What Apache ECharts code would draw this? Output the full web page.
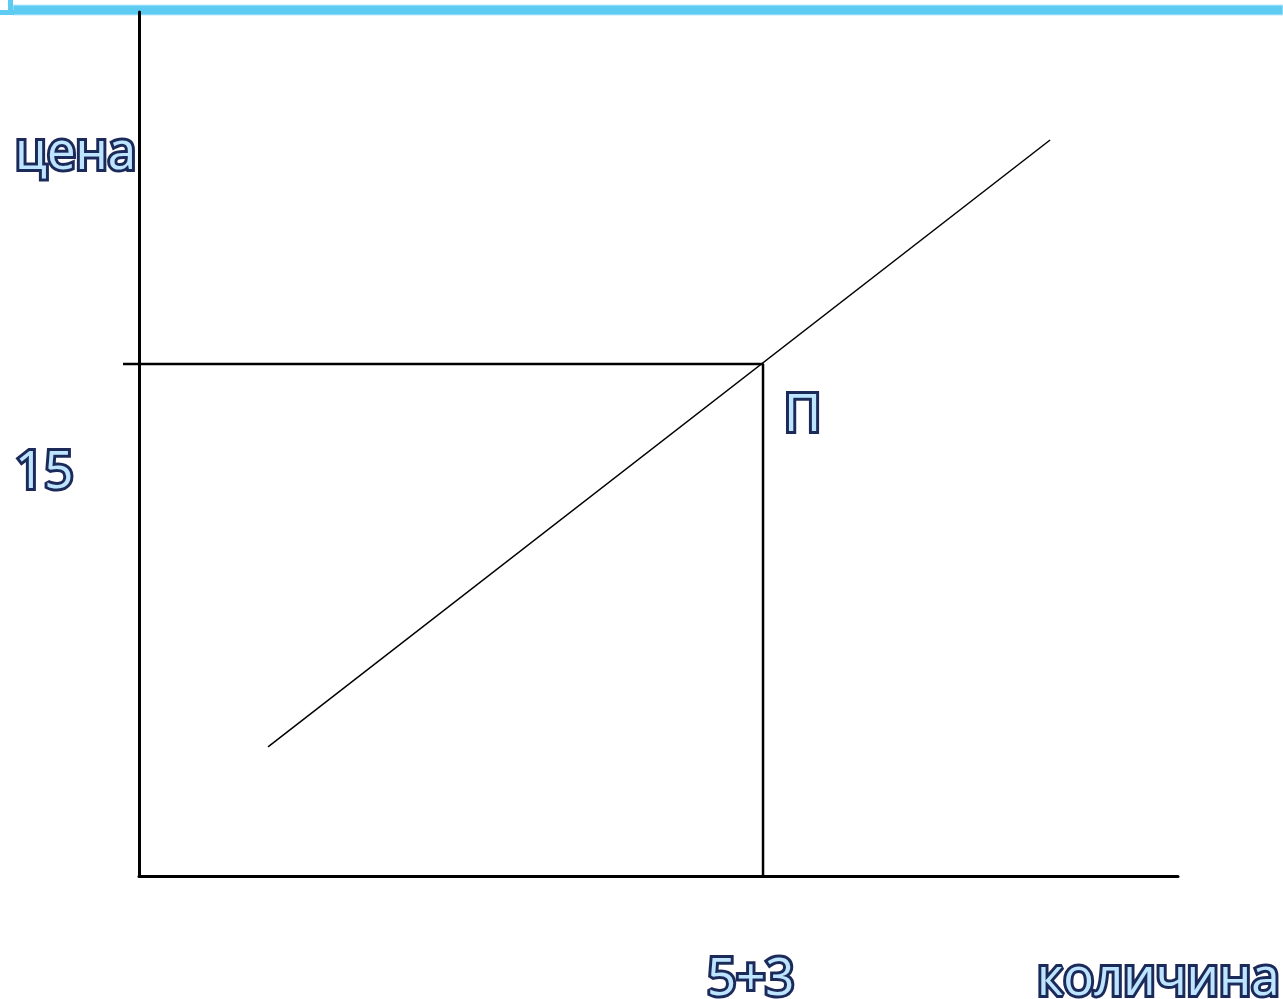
<!DOCTYPE html>
<html>
<head>
<meta charset="utf-8">
<script src="https://cdn.jsdelivr.net/npm/echarts@6/dist/echarts.min.js"></script>
<style>html,body{margin:0;padding:0;background:#fff;}#c{width:1283px;height:999px;}</style>
</head>
<body>
<div id="c"></div>
<script>
// Data (quantity, price)
const supplyQ = [1.654, 11.68];
const supplyP = [3.78, 21.56];
const guideQ = [-0.205, 8, 8];
const guideP = [15, 15, 0];
const eqQ = 8;
const eqP = 15;
const labelPrice = 'цена';
const labelQty = 'количина';
const tickPrice = '15';
const tickQty = '5+3';
const pointLabel = 'П';

const chart = echarts.init(document.getElementById('c'), null, {renderer: 'canvas'});
const txt = {
  fill: '#bde5ff', stroke: '#1c2a5a', lineWidth: 6, strokeFirst: true,
  fontFamily: '"Open Sans"', fontWeight: 400, fontSize: 51
};
function T(text, x, y, align) {
  return { type: 'text', x: x, y: y, z: 10,
    style: Object.assign({ text: text, align: align || 'left', verticalAlign: 'middle' }, txt) };
}
const option = {
  animation: false,
  backgroundColor: '#fff',
  grid: [
    { left: 139, right: 105, top: 12, bottom: 123, containLabel: false },
    { left: 123, right: 105, top: 12, bottom: 123, containLabel: false }
  ],
  xAxis: [
    { type: 'value', min: 0, max: 13.32, gridIndex: 0,
      axisLine: { show: true, onZero: false, lineStyle: { color: '#000', width: 3 } },
      axisTick: { show: false }, axisLabel: { show: false }, splitLine: { show: false } },
    { type: 'value', min: -0.205, max: 13.32, gridIndex: 1, show: false }
  ],
  yAxis: [
    { type: 'value', min: 0, max: 25.31, gridIndex: 0,
      axisLine: { show: true, onZero: false, lineStyle: { color: '#000', width: 3 } },
      axisTick: { show: false }, axisLabel: { show: false }, splitLine: { show: false } },
    { type: 'value', min: 0, max: 25.31, gridIndex: 1, show: false }
  ],
  series: [
    { type: 'line', xAxisIndex: 0, yAxisIndex: 0,
      data: supplyQ.map((q, i) => [q, supplyP[i]]), symbol: 'none',
      lineStyle: { color: '#000', width: 1.5 } },
    { type: 'line', xAxisIndex: 1, yAxisIndex: 1,
      data: guideQ.map((q, i) => [q, guideP[i]]), symbol: 'none',
      lineStyle: { color: '#000', width: 2.5 } }
  ],
  graphic: [
    { type: 'rect', shape: { x: 13, y: 5, width: 1270, height: 10 }, style: { fill: '#5ecbf3', stroke: '#bfeafb', lineWidth: 1 } },
    { type: 'rect', shape: { x: 0, y: 10, width: 14, height: 5 }, style: { fill: '#5ecbf3' } },
    { type: 'rect', shape: { x: 8, y: 0, width: 5, height: 15 }, style: { fill: '#5ecbf3' } },
    T(labelPrice, 15, 154),
    T(tickPrice, 15, 473),
    T(pointLabel, 784, 416),
    T(tickQty, 707, 980),
    T(labelQty, 1037, 980)
  ]
};
chart.setOption(option);
</script>
</body>
</html>
